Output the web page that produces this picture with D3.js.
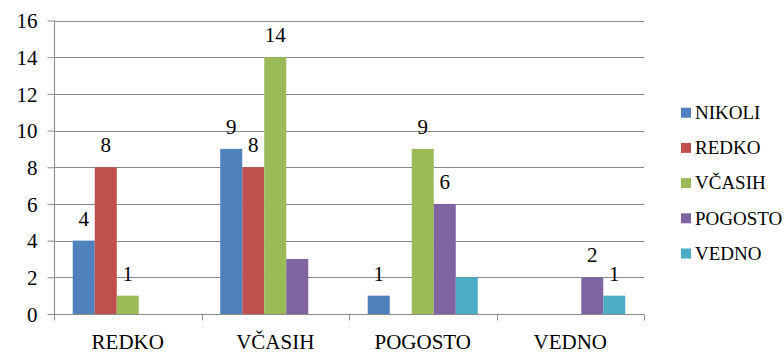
<!DOCTYPE html>
<html>
<head>
<meta charset="utf-8">
<script src="https://cdnjs.cloudflare.com/ajax/libs/d3/7.8.5/d3.min.js"></script>
</head>
<body style="margin:0">
<svg id="fig" width="784" height="354"></svg>
<script>
  // categories on the x axis
  const categories = ["REDKO", "VČASIH", "POGOSTO", "VEDNO"];
  // series (legend)
  const seriesNames = ["NIKOLI", "REDKO", "VČASIH", "POGOSTO", "VEDNO"];
  const seriesColors = ["#4F81BD", "#C0504D", "#9BBB59", "#8064A2", "#4BACC6"];
  // values per series, one per category
  const nikoli  = [4, 9, 1, 0];
  const redko   = [8, 8, 0, 0];
  const vcasih  = [1, 14, 9, 0];
  const pogosto = [0, 3, 6, 2];
  const vedno   = [0, 0, 2, 1];
  // data labels as shown (null = not shown)
  const labNikoli  = [4, 9, 1, null];
  const labRedko   = [8, 8, null, null];
  const labVcasih  = [1, 14, 9, null];
  const labPogosto = [null, null, 6, 2];
  const labVedno   = [null, null, null, 1];
  const yTicks = [0, 2, 4, 6, 8, 10, 12, 14, 16];

  const values = [nikoli, redko, vcasih, pogosto, vedno];
  const labels = [labNikoli, labRedko, labVcasih, labPogosto, labVedno];
  const FONT = "'Times New Roman'";

  const svg = d3.select("#fig");
  const plotLeft = 54, plotRight = 644, plotTop = 20.5, plotBottom = 314;

  const x0 = d3.scaleBand().domain(categories).range([plotLeft, plotRight]).padding(0);
  const gap = x0.bandwidth() * 0.127;
  const x1 = d3.scaleBand().domain(seriesNames).range([gap, x0.bandwidth() - gap]).padding(0);
  const y = d3.scaleLinear().domain([0, 16]).range([plotBottom, plotTop]);

  // gridlines
  svg.append("g")
    .selectAll("line")
    .data(yTicks.filter(d => d > 0))
    .enter().append("line")
    .attr("x1", plotLeft).attr("x2", plotRight)
    .attr("y1", d => Math.round(y(d)) + 0.5)
    .attr("y2", d => Math.round(y(d)) + 0.5)
    .attr("stroke", "#8a8a8a").attr("stroke-width", 1);

  // bars
  const rows = [];
  seriesNames.forEach((s, i) => {
    categories.forEach((c, j) => {
      rows.push({ s: s, c: c, v: values[i][j], lab: labels[i][j], color: seriesColors[i] });
    });
  });

  svg.append("g")
    .selectAll("rect")
    .data(rows.filter(d => d.v > 0))
    .enter().append("rect")
    .attr("x", d => x0(d.c) + x1(d.s))
    .attr("y", d => y(d.v))
    .attr("width", x1.bandwidth())
    .attr("height", d => y(0) - y(d.v))
    .attr("fill", d => d.color);

  // y axis
  const yAxis = svg.append("g")
    .attr("transform", "translate(" + (plotLeft + 0.5) + ",0)")
    .call(d3.axisLeft(y).tickValues(yTicks).tickSize(7).tickPadding(10))
    .attr("font-family", null)
    .attr("font-size", null);
  yAxis.selectAll("path, line").attr("stroke", "#8a8a8a");
  yAxis.select(".domain").attr("d", "M0," + plotTop + "V" + plotBottom);
  yAxis.selectAll("text")
    .style("font-family", FONT)
    .style("font-size", "21px")
    .attr("fill", "#000")
    .attr("dy", "0.34em");

  // x axis
  const xAxis = svg.append("g")
    .attr("transform", "translate(0," + (plotBottom + 0.5) + ")")
    .call(d3.axisBottom(x0).tickSize(0).tickPadding(20))
    .attr("font-family", null)
    .attr("font-size", null);
  xAxis.select(".domain").attr("stroke", "#8a8a8a").attr("d", "M" + plotLeft + ",0H" + plotRight);
  xAxis.selectAll("text")
    .style("font-family", FONT)
    .style("font-size", "21px")
    .attr("fill", "#000");

  const bounds = categories.map(c => x0(c)).concat([plotRight]);
  xAxis.selectAll(".sep")
    .data(bounds)
    .enter().append("line")
    .attr("class", "sep")
    .attr("x1", d => Math.round(d) + 0.5).attr("x2", d => Math.round(d) + 0.5)
    .attr("y1", 0).attr("y2", 6)
    .attr("stroke", "#8a8a8a");

  // data labels
  svg.selectAll("text.lab")
    .data(rows.filter(d => d.lab !== null))
    .enter().append("text")
    .attr("class", "lab")
    .attr("x", d => x0(d.c) + x1(d.s) + x1.bandwidth() / 2)
    .attr("y", d => y(d.v) - 15)
    .attr("text-anchor", "middle")
    .style("font-family", FONT)
    .style("font-size", "21px")
    .text(d => d.lab);

  // legend
  svg.selectAll("rect.key")
    .data(seriesNames)
    .enter().append("rect")
    .attr("class", "key")
    .attr("x", 681).attr("y", (d, i) => 107.7 + i * 35.2)
    .attr("width", 10).attr("height", 10)
    .attr("fill", (d, i) => seriesColors[i]);
  svg.selectAll("text.key")
    .data(seriesNames)
    .enter().append("text")
    .attr("class", "key")
    .attr("x", 695).attr("y", (d, i) => 119 + i * 35.2)
    .style("font-family", FONT)
    .style("font-size", "19px")
    .text(d => d);
</script>
</body>
</html>
